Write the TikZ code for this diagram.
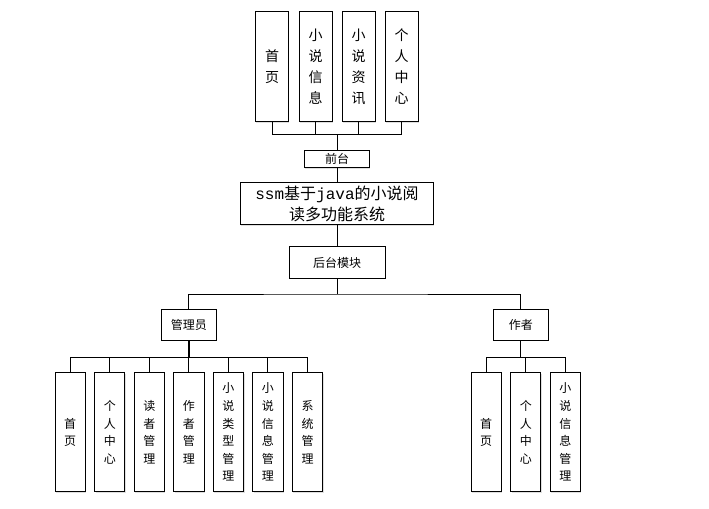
\documentclass[tikz,border=0pt]{standalone}
\usepackage{fontspec}
\setmainfont{Noto Sans CJK SC}
\setmonofont{Liberation Mono}
\usetikzlibrary{shadows}

\begin{document}
\begin{tikzpicture}[x=0.75pt, y=-0.75pt,
  box/.style={draw, line width=0.75pt, fill=white, inner sep=0pt, align=center,
    drop shadow={shadow xshift=0.7pt, shadow yshift=-0.7pt, fill=gray!25, opacity=1}},
  topbox/.style={box, minimum width=24.75pt, minimum height=82.5pt,
    font=\fontsize{10.5}{15.75}\selectfont},
  leafbox/.style={box, minimum width=22.75pt, minimum height=89.5pt,
    font=\fontsize{9}{13.2}\selectfont},
  midbox/.style={box, font=\fontsize{9}{11}\selectfont},
  link/.style={line width=0.75pt}]
\useasboundingbox (0,0) rectangle (709,509);

% front end
\node[topbox] (top1) at (272, 66.7) {首\\页};
\node[topbox] (top2) at (315.5, 66.7) {小\\说\\信\\息};
\node[topbox] (top3) at (358.5, 66.7) {小\\说\\资\\讯};
\node[topbox] (top4) at (401.5, 66.7) {个\\人\\中\\心};

\node[midbox, minimum width=48.75pt, minimum height=12.75pt] (qiantai) at (337, 159.2) {前台};
\node[box, minimum width=144.75pt, minimum height=31.5pt, font=\fontsize{12}{15.5}\selectfont] (system) at (337, 204)
  {\texttt{ssm}基于\texttt{java}的小说阅\\读多功能系统};
\node[midbox, minimum width=72pt, minimum height=23.7pt] (houtai) at (337, 262.5) {后台模块};

\node[midbox, minimum width=41pt, minimum height=23pt] (admin) at (188.8, 324.7) {管理员};
\node[midbox, minimum width=41.25pt, minimum height=23pt] (author) at (520.8, 324.7) {作者};

% admin leaves
\foreach \txt [count=\i] in {首\\页, 个\\人\\中\\心, 读\\者\\管\\理, 作\\者\\管\\理,
    小\\说\\类\\型\\管\\理, 小\\说\\信\\息\\管\\理, 系\\统\\管\\理}
  \node[leafbox] (a\i) at ({70.2+39.55*(\i-1)}, 432.3) {\txt};

% author leaves
\foreach \txt [count=\i] in {首\\页, 个\\人\\中\\心, 小\\说\\信\\息\\管\\理}
  \node[leafbox] (b\i) at ({486.2+39.55*(\i-1)}, 432.3) {\txt};

\coordinate (topbus) at (337, 135);
\coordinate (backbus) at (337, 294);
\coordinate (adminbus) at (188.8, 357);
\coordinate (authorbus) at (520.8, 357);

\foreach \i in {1,...,4}
  \draw[link] (top\i.south) |- (topbus);
\draw[link] (topbus) -- (qiantai.north);
\draw[link] (qiantai.south) -- (system.north);
\draw[link] (system.south) -- (houtai.north);
\draw[link] (houtai.south) -- (backbus);
\draw[link] (admin.north) |- (backbus) -| (author.north);

\draw[line width=1.6pt] (admin.south) -- (adminbus);
\foreach \i in {1,...,7}
  \draw[link] (adminbus) -| (a\i.north);

\draw[link] (author.south) -- (authorbus);
\foreach \i in {1,...,3}
  \draw[link] (authorbus) -| (b\i.north);
\end{tikzpicture}
\end{document}
